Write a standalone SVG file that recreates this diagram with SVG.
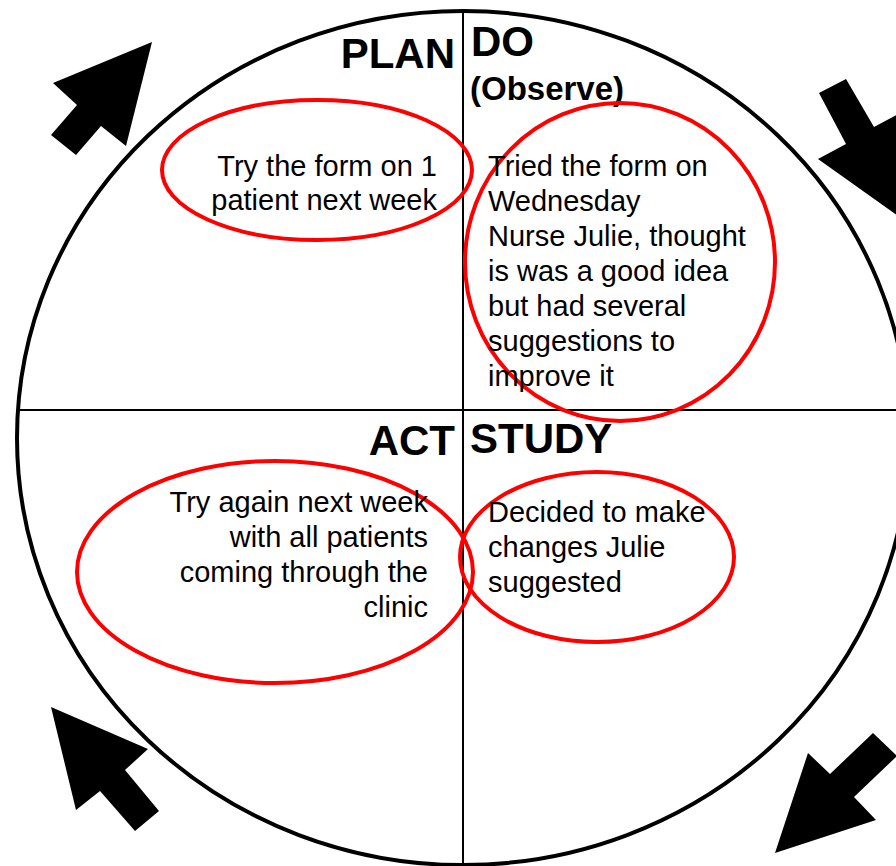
<svg xmlns="http://www.w3.org/2000/svg" width="896" height="866" viewBox="0 0 896 866">
<style>
.head{font-family:"Liberation Sans",Arial,sans-serif;font-weight:bold;fill:#000}
.body{font-family:"Liberation Sans",Arial,sans-serif;font-size:29px;fill:#000}
.ring{fill:none;stroke:#ff0000;stroke-width:4}
.arrow{fill:#000}
</style>
<rect width="896" height="866" fill="#fff"/>
<g id="frame">
<ellipse cx="463" cy="438" rx="446" ry="427" fill="none" stroke="#000" stroke-width="4"/>
</g>
<g id="connectors">
<line x1="463" y1="10" x2="463" y2="866" stroke="#000" stroke-width="2"/>
<line x1="19" y1="410" x2="896" y2="410" stroke="#000" stroke-width="2"/>
<polygon class="arrow" points="152,42 126,146 101,126 76,155 51,135 77,105 53,83"/>
<polygon class="arrow" points="819,93 846,79 874,127 902,112 905,221 818,159 846,144"/>
<polygon class="arrow" points="51,707 148,749 125,770 159,811 135,831 100,791 76,810"/>
<polygon class="arrow" points="873,733 897,756 854,797 876,820 775,853 808,753 830,774"/>
</g>
<g id="plan">
<text class="head" x="455" y="68" font-size="42" text-anchor="end">PLAN</text>
<ellipse class="ring" cx="317" cy="170" rx="155" ry="70"/>
<text class="body" text-anchor="end"><tspan x="437" y="176">Try the form on 1</tspan><tspan x="437" y="210">patient next week</tspan></text>
</g>
<g id="do">
<text class="head" x="471" y="56" font-size="42">DO</text>
<text class="head" x="470" y="100" font-size="33">(Observe)</text>
<ellipse class="ring" cx="620" cy="262" rx="155" ry="159"/>
<text class="body"><tspan x="488" y="176">Tried the form on</tspan><tspan x="488" y="211">Wednesday</tspan><tspan x="488" y="246">Nurse Julie, thought</tspan><tspan x="488" y="281">is was a good idea</tspan><tspan x="488" y="316">but had several</tspan><tspan x="488" y="351">suggestions to</tspan><tspan x="488" y="386">improve it</tspan></text>
</g>
<g id="act">
<text class="head" x="455" y="455" font-size="42" text-anchor="end">ACT</text>
<ellipse class="ring" cx="275" cy="572" rx="198" ry="111"/>
<text class="body" text-anchor="end"><tspan x="428" y="512">Try again next week</tspan><tspan x="428" y="547">with all patients</tspan><tspan x="428" y="582">coming through the</tspan><tspan x="428" y="617">clinic</tspan></text>
</g>
<g id="study">
<text class="head" x="470" y="453" font-size="42">STUDY</text>
<ellipse class="ring" cx="597" cy="557" rx="137" ry="85"/>
<text class="body"><tspan x="488" y="522">Decided to make</tspan><tspan x="488" y="557">changes Julie</tspan><tspan x="488" y="592">suggested</tspan></text>
</g>
</svg>
